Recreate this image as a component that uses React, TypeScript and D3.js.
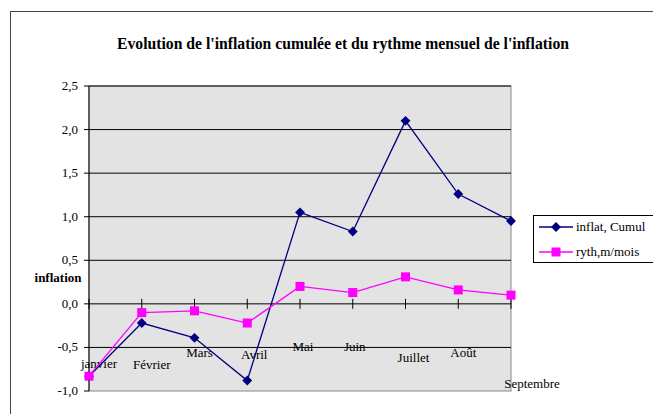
import * as d3 from 'd3';

const months = ['janvier', 'Février', 'Mars', 'Avril', 'Mai', 'Juin', 'Juillet', 'Août', 'Septembre'];
const cumul = [-0.83, -0.22, -0.39, -0.88, 1.05, 0.83, 2.1, 1.26, 0.95];
const rythme = [-0.83, -0.1, -0.08, -0.22, 0.2, 0.13, 0.31, 0.16, 0.1];
const yTicks = [-1.0, -0.5, 0.0, 0.5, 1.0, 1.5, 2.0, 2.5];
// Excel placed the month labels oddly; offsets from tick position
const labelDx = [10, 10, 5, 7, 3, 2, 8, 5, 21];
const labelDy = [64, 65, 53, 55, 47, 47, 58, 53, 84];

export default function App() {
    const width = 653;
    const height = 414;
    const plot = { left: 89, right: 511, top: 86, bottom: 391 };

    const x = d3.scalePoint<string>().domain(months).range([plot.left, plot.right]);
    const y = d3.scaleLinear().domain([-1, 2.5]).range([plot.bottom, plot.top]);

    const line = d3
        .line<number>()
        .x((d, i) => x(months[i]) as number)
        .y((d) => y(d));

    const fmt = (v: number) => v.toFixed(1).replace('.', ',');

    return (
        <svg
            width={width}
            height={height}
            style={{
                position: 'absolute',
                left: 0,
                top: 0,
                background: '#fff',
                fontFamily: "'Liberation Serif', 'Times New Roman', serif",
            }}
        >
            <rect x={10.5} y={11.5} width={800} height={600} fill="#fff" stroke="#444" />
            <text x={343} y={49} textAnchor="middle" fontSize={15.7} fontWeight="bold">
                Evolution de l'inflation cumulée et du rythme mensuel de l'inflation
            </text>

            <rect
                x={plot.left}
                y={plot.top}
                width={plot.right - plot.left}
                height={plot.bottom - plot.top}
                fill="#e3e3e3"
                stroke="#888"
            />
            {yTicks.map((t) => (
                <g key={t}>
                    {t !== -1 && (
                        <line x1={plot.left} x2={plot.right} y1={y(t)} y2={y(t)} stroke="#000" />
                    )}
                    <line x1={plot.left - 5} x2={plot.left} y1={y(t)} y2={y(t)} stroke="#000" />
                    <text x={78} y={y(t) + 4} textAnchor="end" fontSize={13}>
                        {fmt(t)}
                    </text>
                </g>
            ))}
            <line x1={plot.left} x2={plot.left} y1={plot.top} y2={plot.bottom} stroke="#000" />
            {months.map((m, i) => (
                <g key={m}>
                    <line
                        x1={x(m)}
                        x2={x(m)}
                        y1={y(0) - 5}
                        y2={y(0) + 5}
                        stroke="#000"
                    />
                    <text
                        x={(x(m) as number) + labelDx[i]}
                        y={y(0) + labelDy[i]}
                        textAnchor="middle"
                        fontSize={13}
                    >
                        {m}
                    </text>
                </g>
            ))}
            <text x={58} y={282} textAnchor="middle" fontSize={13} fontWeight="bold">
                inflation
            </text>

            <path d={line(cumul) as string} fill="none" stroke="#000080" strokeWidth={1.3} />
            <path d={line(rythme) as string} fill="none" stroke="#ff00ff" strokeWidth={1.3} />
            {cumul.map((v, i) => (
                <rect
                    key={'c' + i}
                    x={(x(months[i]) as number) - 3.5}
                    y={y(v) - 3.5}
                    width={7}
                    height={7}
                    fill="#000080"
                    transform={`rotate(45 ${x(months[i])} ${y(v)})`}
                />
            ))}
            {rythme.map((v, i) => (
                <rect
                    key={'r' + i}
                    x={(x(months[i]) as number) - 4.5}
                    y={y(v) - 4.5}
                    width={9}
                    height={9}
                    fill="#ff00ff"
                />
            ))}

            <g>
                <rect x={533.5} y={215.5} width={130} height={47} fill="#fff" stroke="#000" />
                <line x1={539} x2={573} y1={227} y2={227} stroke="#000080" strokeWidth={1.3} />
                <rect x={552.5} y={223.5} width={7} height={7} fill="#000080" transform="rotate(45 556 227)" />
                <text x={576} y={231} fontSize={13}>inflat, Cumul</text>
                <line x1={539} x2={573} y1={252} y2={252} stroke="#ff00ff" strokeWidth={1.3} />
                <rect x={551.5} y={247.5} width={9} height={9} fill="#ff00ff" />
                <text x={576} y={256} fontSize={13}>ryth,m/mois</text>
            </g>
        </svg>
    );
}
